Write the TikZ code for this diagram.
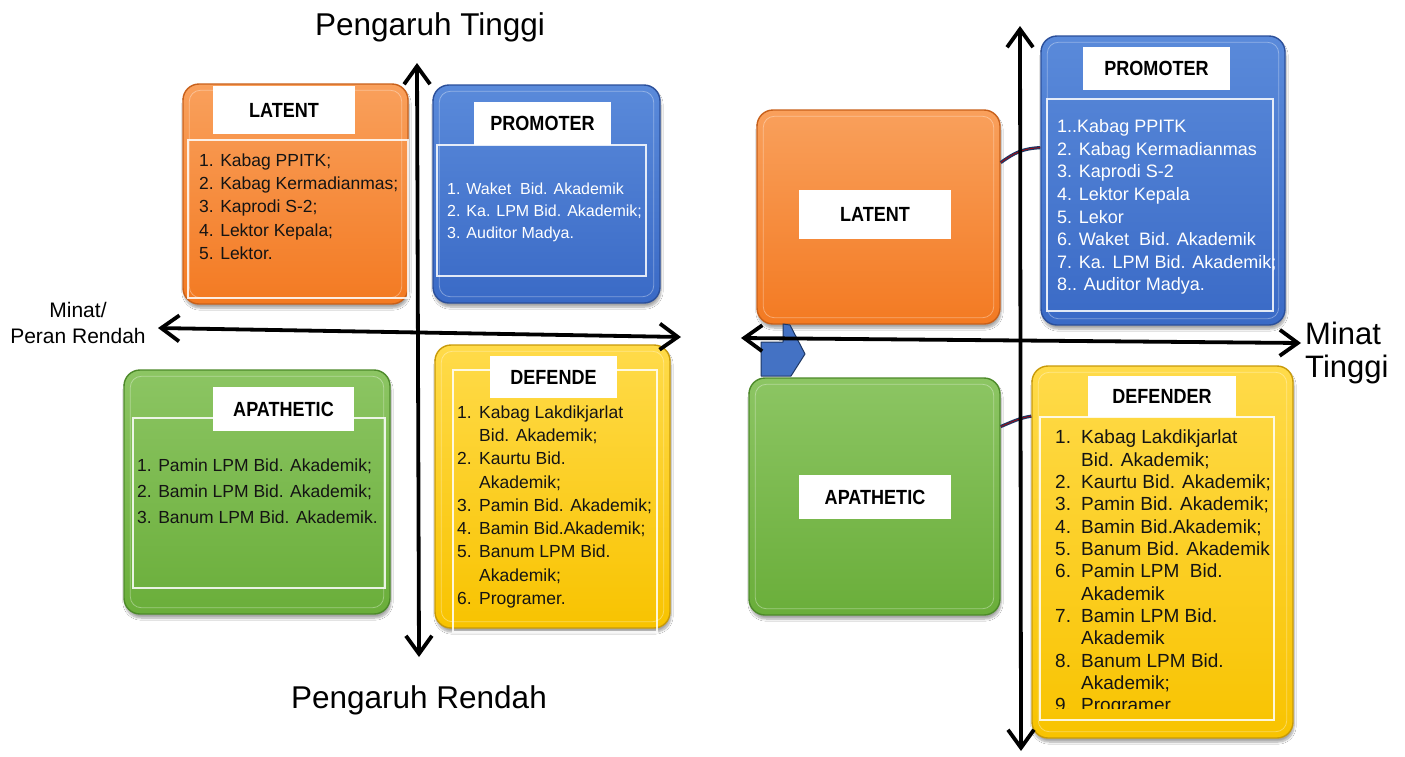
\documentclass[tikz,border=0pt]{standalone}
\usepackage{fontspec}
\setmainfont{Liberation Sans}
\newfontfamily\ttlfont[FakeStretch=0.88]{Liberation Sans}
\usetikzlibrary{arrows.meta,shadows.blur}
\definecolor{orT}{HTML}{F9A05C}
\definecolor{orB}{HTML}{F37A22}
\definecolor{orD}{HTML}{C8601A}
\definecolor{blT}{HTML}{5A8ADA}
\definecolor{blB}{HTML}{3A6AC6}
\definecolor{blD}{HTML}{2B4F9A}
\definecolor{grT}{HTML}{8CC563}
\definecolor{grB}{HTML}{6AAE3A}
\definecolor{grD}{HTML}{4D8A2A}
\definecolor{yeT}{HTML}{FFDB4A}
\definecolor{yeB}{HTML}{F8C300}
\definecolor{yeD}{HTML}{C89A08}
\definecolor{linknavy}{HTML}{1F3864}
\definecolor{linkred}{HTML}{C00000}
\definecolor{pentblue}{HTML}{4472C4}
\definecolor{txtdark}{HTML}{141414}
\tikzset{axhead/.tip={Straight Barb[length=18pt,width=26pt]}}
\newcommand\qbox[8]{%
  \node[qb, draw=#8, top color=#6, bottom color=#7, minimum width=#4pt, minimum height=#5pt] (#1) at (#2,#3) {};
  \draw[bevel] ([xshift=7pt,yshift=-7pt]#1.north west) rectangle ([xshift=-7pt,yshift=7pt]#1.south east);
}
\begin{document}
\begin{tikzpicture}[x=1pt,y=-1pt,
  qb/.style={rectangle, rounded corners=16pt, line width=1.4pt,
    blur shadow={shadow xshift=1pt,shadow yshift=-4pt,shadow opacity=35,shadow blur steps=8}},
  bevel/.style={draw=white, draw opacity=0.35, line width=0.8pt, rounded corners=11pt},
  crect/.style={draw=white, draw opacity=0.85, line width=1.1pt},
  ttl/.style={fill=white, inner sep=0pt, text=black, font=\ttlfont\bfseries\fontsize{20.5}{22}\selectfont},
  lst/.style={anchor=north west, inner sep=0pt, align=left},
  axis/.style={line width=3.8pt, axhead-axhead},
  link/.style={draw=linknavy, double=linkred, double distance=0.6pt, line width=1.3pt},
  pent/.style={fill=pentblue, draw=linknavy, line width=1pt, line join=round},
  big/.style={font=\fontsize{31.5}{36}\selectfont, inner sep=0pt}
]
\useasboundingbox[fill=white] (0,0) rectangle (1405,756);

% ---------------- left matrix ----------------
\qbox{latL}{295.5}{194}{225}{220}{orT}{orB}{orD}
\qbox{proL}{546.5}{194}{227}{218}{blT}{blB}{blD}
\qbox{apaL}{257}{492}{266}{244}{grT}{grB}{grD}
\qbox{defL}{552.5}{486.5}{235}{283}{yeT}{yeB}{yeD}

\draw[crect] (188,140) rectangle (408,298);
\draw[crect] (437,145) rectangle (646,276);
\draw[crect] (133,418) rectangle (385,588);
\draw[crect] (453,370) rectangle (657,632);

\node[ttl, minimum width=142pt, minimum height=48pt] (latLt) at (284,110) {LATENT};
\node[ttl, minimum width=137pt, minimum height=43pt] (proLt) at (542.5,123.5) {PROMOTER};
\node[ttl, minimum width=141pt, minimum height=44pt] (apaLt) at (283.5,409) {APATHETIC};
\node[ttl, minimum width=127pt, minimum height=42pt] (defLt) at (553.5,377) {DEFENDE};

\node[lst, text=txtdark, font=\fontsize{17.5}{23.25}\selectfont] (latLl) at (199,153.5)
  {1. Kabag PPITK;\\2. Kabag Kermadianmas;\\3. Kaprodi S-2;\\4. Lektor Kepala;\\5. Lektor.};
\node[lst, text=white, font=\fontsize{16}{22}\selectfont] (proLl) at (447,183)
  {1. Waket\ \ Bid. Akademik\\2. Ka. LPM Bid. Akademik;\\3. Auditor Madya.};
\node[lst, text=txtdark, font=\fontsize{17.5}{26}\selectfont] (apaLl) at (137,458.5)
  {1. Pamin LPM Bid. Akademik;\\2. Bamin LPM Bid. Akademik;\\3. Banum LPM Bid. Akademik.};
\node[lst, text=txtdark, font=\fontsize{17.5}{23.25}\selectfont] (defLl) at (457,405.5)
  {\makebox[22pt][l]{1.}Kabag Lakdikjarlat\\\hspace*{22pt}Bid. Akademik;\\
   \makebox[22pt][l]{2.}Kaurtu Bid.\\\hspace*{22pt}Akademik;\\
   \makebox[22pt][l]{3.}Pamin Bid. Akademik;\\
   \makebox[22pt][l]{4.}Bamin Bid.Akademik;\\
   \makebox[22pt][l]{5.}Banum LPM Bid.\\\hspace*{22pt}Akademik;\\
   \makebox[22pt][l]{6.}Programer.};

\coordinate (lW) at (158,328);
\coordinate (lE) at (681,337);
\coordinate (lN) at (417,63);
\coordinate (lS) at (419,657);
\draw[axis] (lW) -- (lE);
\draw[axis] (lS) -- (lN);

\node[big] (tTop) at (430,27) {Pengaruh Tinggi};
\node[big] (tBot) at (419,700) {Pengaruh Rendah};
\node[inner sep=0pt, align=center, font=\fontsize{21}{26}\selectfont] (tLeft) at (78,323) {Minat/\\Peran Rendah};

% ---------------- right matrix ----------------
\qbox{latR}{878.5}{217}{243}{214}{orT}{orB}{orD}
\qbox{proR}{1163}{180.5}{244}{289}{blT}{blB}{blD}
\qbox{apaR}{874.5}{496.5}{251}{237}{grT}{grB}{grD}
\qbox{defR}{1162.5}{552}{261}{372}{yeT}{yeB}{yeD}

\draw[crect] (1047,99) rectangle (1273,311);
\draw[crect] (1040,417) rectangle (1274,720);

\node[ttl, minimum width=152pt, minimum height=49pt] (latRt) at (875,214.5) {LATENT};
\node[ttl, minimum width=147pt, minimum height=43pt] (proRt) at (1156.5,68.5) {PROMOTER};
\node[ttl, minimum width=152pt, minimum height=44pt] (apaRt) at (875,497) {APATHETIC};
\node[ttl, minimum width=148pt, minimum height=41pt] (defRt) at (1162,396.5) {DEFENDER};

\node[lst, text=white, font=\fontsize{18}{22.6}\selectfont] (proRl) at (1057,119.5)
  {1..Kabag PPITK\\2. Kabag Kermadianmas\\3. Kaprodi S-2\\4. Lektor Kepala\\5. Lekor\\
   6. Waket\ \ Bid. Akademik\\7. Ka. LPM Bid. Akademik;\\8.. Auditor Madya.};
\begin{scope}
  \clip (1040,417) rectangle (1274,708);
  \node[lst, text=txtdark, font=\fontsize{19}{22.33}\selectfont] (defRl) at (1055,430)
  {\makebox[26pt][l]{1.}Kabag Lakdikjarlat\\\hspace*{26pt}Bid. Akademik;\\
   \makebox[26pt][l]{2.}Kaurtu Bid. Akademik;\\
   \makebox[26pt][l]{3.}Pamin Bid. Akademik;\\
   \makebox[26pt][l]{4.}Bamin Bid.Akademik;\\
   \makebox[26pt][l]{5.}Banum Bid. Akademik\\
   \makebox[26pt][l]{6.}Pamin LPM\ \ Bid.\\\hspace*{26pt}Akademik\\
   \makebox[26pt][l]{7.}Bamin LPM Bid.\\\hspace*{26pt}Akademik\\
   \makebox[26pt][l]{8.}Banum LPM Bid.\\\hspace*{26pt}Akademik;\\
   \makebox[26pt][l]{9.}Programer};
\end{scope}

\draw[pent] (761,342) -- (783,342) -- (783,324) -- (790,325) -- (805,354) -- (791,376) -- (761,376) -- cycle;

\draw[link] (latR.24) .. controls +(14,-10) and +(-18,1) .. (proR.165);
\draw[link] (apaR.29) .. controls +(12,-5) and +(-12,2) .. (defR.134);

\coordinate (rW) at (741,338);
\coordinate (rE) at (1301,343);
\coordinate (rN) at (1020,26);
\coordinate (rS) at (1021,751);
\draw[axis] (rW) -- (rE);
\draw[axis] (rS) -- (rN);

\node[anchor=north west, inner sep=0pt, align=left, font=\fontsize{31}{33}\selectfont] (tRight) at (1305,322) {Minat\\Tinggi};
\end{tikzpicture}
\end{document}
